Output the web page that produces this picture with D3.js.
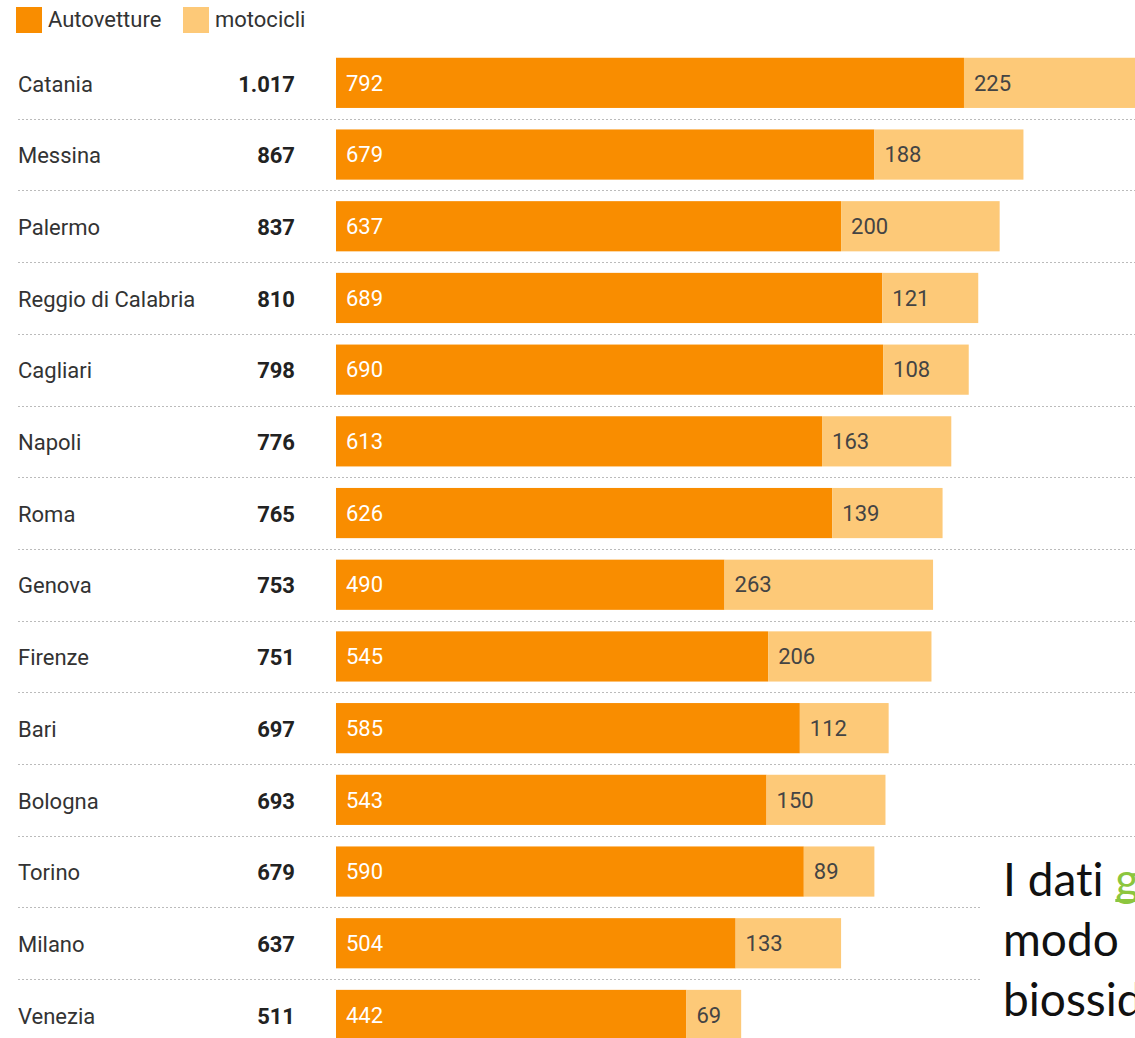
<!DOCTYPE html>
<html>
<head>
<meta charset="utf-8">
<script src="https://cdn.jsdelivr.net/npm/d3@7"></script>
<style>
  html, body { margin: 0; padding: 0; background: #fff; overflow: hidden; }
  #wrap { position: relative; width: 1135px; height: 1038px; overflow: hidden; }
  svg { display: block; font-family: Roboto, "Noto Sans", sans-serif; }
  #overlay {
    position: absolute; left: 982px; top: 846px; width: 200px; height: 200px;
    background: #fff; padding-left: 21px; box-sizing: border-box;
    font-family: Lato, "Open Sans", sans-serif; font-size: 46px; font-weight: 400; line-height: 60px;
    font-variant-ligatures: none; font-feature-settings: "liga" 0;
    color: #111; white-space: nowrap; padding-top: 3px;
  }
  #overlay a { color: #8cc63e; text-decoration: underline; text-decoration-color: #8cc63e; text-decoration-thickness: 3px; text-underline-offset: 3px; text-decoration-skip-ink: none; }
</style>
</head>
<body>
<div id="wrap">
<svg id="chart" width="1135" height="1038"></svg>
<div id="overlay">I dati <a>g</a><br>modo<br>biossido</div>
</div>
<script>
const cities = ["Catania","Messina","Palermo","Reggio di Calabria","Cagliari","Napoli","Roma","Genova","Firenze","Bari","Bologna","Torino","Milano","Venezia"];
const autovetture = [792,679,637,689,690,613,626,490,545,585,543,590,504,442];
const motocicli   = [225,188,200,121,108,163,139,263,206,112,150,89,133,69];
const totals      = ["1.017","867","837","810","798","776","765","753","751","697","693","679","637","511"];
const seriesNames = ["Autovetture","motocicli"];
const colors = ["#f98d00","#fdc978"];

const svg = d3.select("#chart");
const W = 1135;
const FS = 22;

const x = d3.scaleLinear().domain([0, 1000]).range([336, 336 + 1000 * 0.7929]);
const y = d3.scaleBand().domain(cities).range([47, 47 + 14 * 71.7]).paddingInner(0.3).paddingOuter(0.15);

// legend
const leg = svg.append("g");
const legX = [16, 183];
seriesNames.forEach((n, i) => {
  leg.append("rect").attr("x", legX[i]).attr("y", 7).attr("width", 26).attr("height", 26).attr("fill", colors[i]);
  leg.append("text").attr("x", legX[i] + 32).attr("y", 27).attr("font-size", FS).attr("fill", "#333").text(n);
});

// separators
const step = y.step();
svg.append("g").selectAll("line").data(cities.slice(0, -1)).join("line")
  .attr("x1", 18).attr("x2", W)
  .attr("y1", d => Math.round(y(d) + y.bandwidth() + step * 0.15) + 0.5)
  .attr("y2", d => Math.round(y(d) + y.bandwidth() + step * 0.15) + 0.5)
  .attr("stroke", "#bbb").attr("stroke-width", 1).attr("stroke-dasharray", "2,2");

const rows = svg.append("g").selectAll("g").data(cities).join("g");
const cy = d => y(d) + y.bandwidth() / 2 + 1;

rows.append("text").attr("x", 18).attr("y", cy).attr("dy", "0.35em")
  .attr("font-size", FS).attr("fill", "#333").text(d => d);

rows.append("text").attr("x", 295).attr("y", cy).attr("dy", "0.35em")
  .attr("text-anchor", "end").attr("font-size", FS).attr("font-weight", "bold").attr("fill", "#222")
  .text((d, i) => totals[i]);

rows.append("rect").attr("x", x(0)).attr("y", d => y(d))
  .attr("width", (d, i) => x(autovetture[i]) - x(0)).attr("height", y.bandwidth()).attr("fill", colors[0]);

rows.append("rect").attr("x", (d, i) => x(autovetture[i])).attr("y", d => y(d))
  .attr("width", (d, i) => x(autovetture[i] + motocicli[i]) - x(autovetture[i])).attr("height", y.bandwidth()).attr("fill", colors[1]);

rows.append("text").attr("x", x(0) + 10).attr("y", d => y(d) + y.bandwidth() / 2).attr("dy", "0.35em")
  .attr("font-size", FS).attr("fill", "#fff").text((d, i) => autovetture[i]);

rows.append("text").attr("x", (d, i) => x(autovetture[i]) + 10).attr("y", d => y(d) + y.bandwidth() / 2).attr("dy", "0.35em")
  .attr("font-size", FS).attr("fill", "#444").text((d, i) => motocicli[i]);
</script>
</body>
</html>
